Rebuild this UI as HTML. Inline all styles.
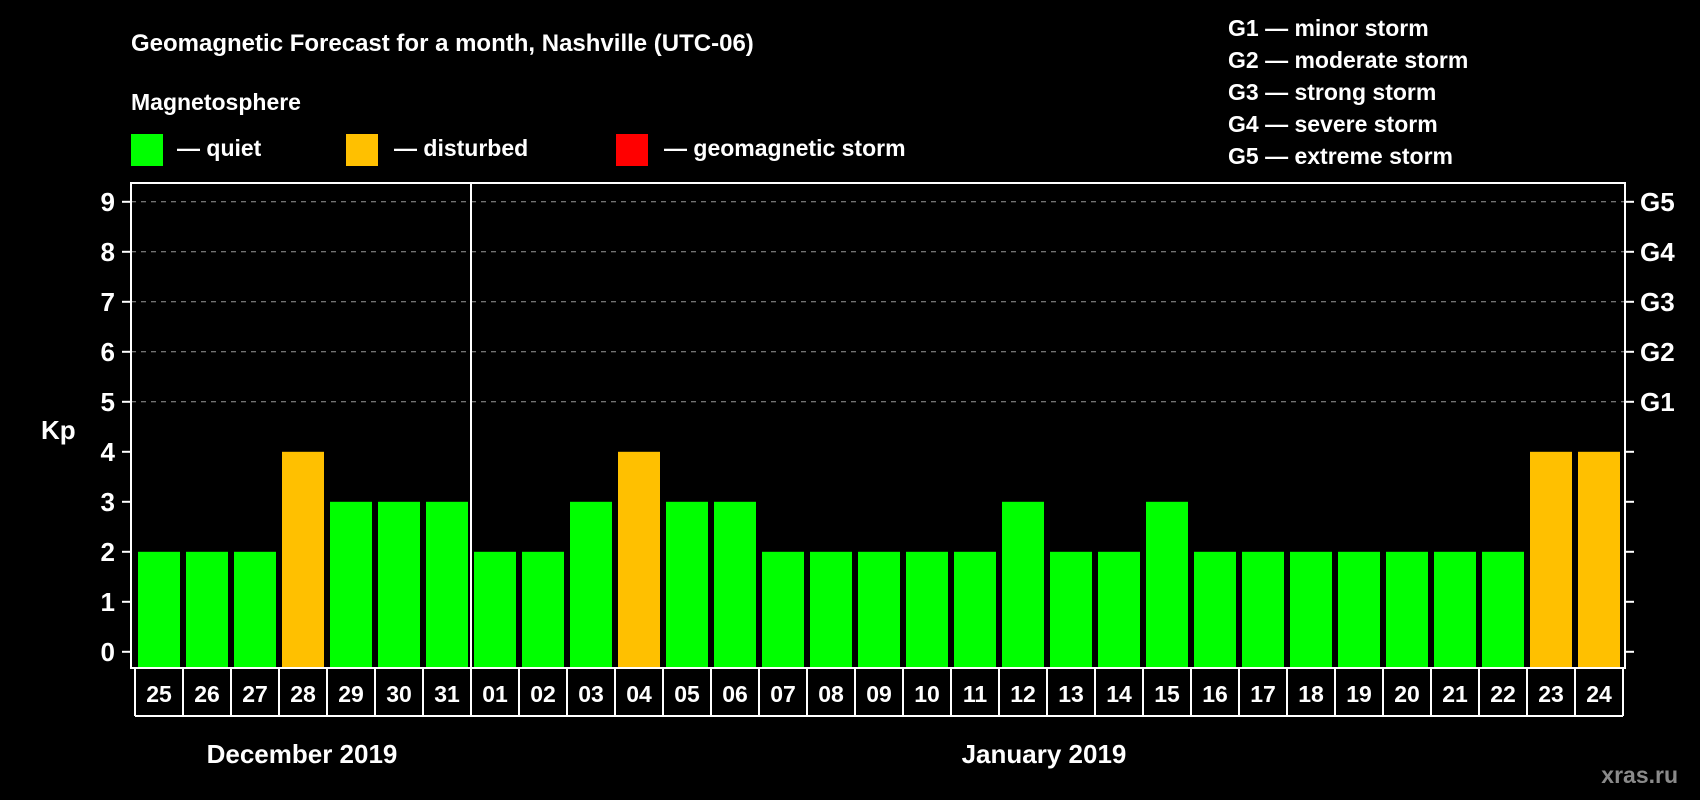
<!DOCTYPE html>
<html><head><meta charset="utf-8"><style>
html,body{margin:0;padding:0;background:#000;}
svg{display:block;font-family:"Liberation Sans",Arial,sans-serif;font-weight:bold;}
</style></head><body>
<svg id="c" width="1700" height="800" viewBox="0 0 1700 800">
<rect width="1700" height="800" fill="#000"/>
<text x="131" y="51" fill="#fff" font-size="24">Geomagnetic Forecast for a month, Nashville (UTC-06)</text>
<text x="131" y="110" fill="#fff" font-size="23">Magnetosphere</text>
<g><rect x="131" y="134" width="32" height="32" fill="#00ff00"/><text x="177" y="156" fill="#fff" font-size="23">— quiet</text></g>
<g><rect x="346" y="134" width="32" height="32" fill="#ffc000"/><text x="394" y="156" fill="#fff" font-size="23">— disturbed</text></g>
<g><rect x="616" y="134" width="32" height="32" fill="#ff0000"/><text x="664" y="156" fill="#fff" font-size="23">— geomagnetic storm</text></g>
<g fill="#fff" font-size="23">
<text x="1228" y="36">G1 — minor storm</text>
<text x="1228" y="68">G2 — moderate storm</text>
<text x="1228" y="100">G3 — strong storm</text>
<text x="1228" y="132">G4 — severe storm</text>
<text x="1228" y="164">G5 — extreme storm</text>
</g>
<text x="41" y="439" fill="#fff" font-size="26">Kp</text>
<g id="grid"></g><g id="bars"></g><g id="axes"></g>
<text x="302" y="763" fill="#fff" font-size="26" text-anchor="middle">December 2019</text>
<text x="1044" y="763" fill="#fff" font-size="26" text-anchor="middle">January 2019</text>
<text x="1678" y="783" fill="#8a8a8a" font-size="23" text-anchor="end">xras.ru</text>
</svg>
<script>
const days = ["25","26","27","28","29","30","31","01","02","03","04","05","06","07","08","09","10","11","12","13","14","15","16","17","18","19","20","21","22","23","24"];
const kp = [2,2,2,4,3,3,3,2,2,3,4,3,3,2,2,2,2,2,3,2,2,3,2,2,2,2,2,2,2,4,4];
const yTicks = [0,1,2,3,4,5,6,7,8,9];
const gLabels = ["G1","G2","G3","G4","G5"];
const NS="http://www.w3.org/2000/svg";
const L=131,R=1625,T=183,B=668,CB=716;
function y(v){return 651.8-50*v;}
function x(i){return 138+48*i;}
function mk(tag,attrs,parent){const e=document.createElementNS(NS,tag);for(const k in attrs)e.setAttribute(k,attrs[k]);parent.appendChild(e);return e;}
const grid=document.getElementById('grid'),bars=document.getElementById('bars'),axes=document.getElementById('axes');
yTicks.forEach(v=>{
  if(v>=5){const g=mk('line',{x1:L,x2:R,y1:y(v),y2:y(v),stroke:'#999','stroke-width':1,'stroke-dasharray':'5 5'},grid);
    
    }
  mk('line',{x1:122,x2:L,y1:y(v),y2:y(v),stroke:'#fff','stroke-width':2},axes);
  mk('line',{x1:R,x2:R+9,y1:y(v),y2:y(v),stroke:'#fff','stroke-width':2},axes);
  const t=mk('text',{x:115,y:y(v)+9,fill:'#fff','font-size':26,'text-anchor':'end'},axes);t.textContent=v;
  
  
});
gLabels.forEach((g,k)=>{const t=mk('text',{x:1640,y:y(k+5)+9,fill:'#fff','font-size':26},axes);t.textContent=g;
  
  });
function col(v){return v>=5?'#ff0000':(v>=4?'#ffc000':'#00ff00');}
kp.forEach((v,i)=>{
  const r=mk('rect',{x:x(i),y:y(v),width:42,height:B-y(v),fill:col(v)},bars);
  
  
  const t=mk('text',{x:x(i)+21,y:702,fill:'#fff','font-size':23,'text-anchor':'middle'},axes);t.textContent=days[i];
  
  
});
mk('rect',{x:L,y:T,width:R-L,height:B-T,fill:'none',stroke:'#fff','stroke-width':2},axes);
for(let i=0;i<=days.length;i++){mk('line',{x1:135+48*i,x2:135+48*i,y1:B,y2:CB,stroke:'#fff','stroke-width':2},axes);}
mk('line',{x1:135,x2:135+48*days.length,y1:CB,y2:CB,stroke:'#fff','stroke-width':2},axes);
const sep=days.indexOf("01");
mk('line',{x1:135+48*sep,x2:135+48*sep,y1:T,y2:B,stroke:'#fff','stroke-width':2},axes);
</script>
</body></html>
